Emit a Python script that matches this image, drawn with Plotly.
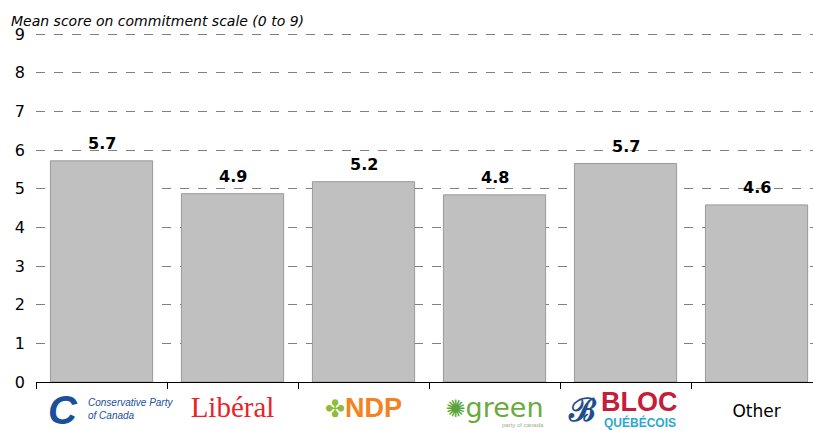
import plotly.graph_objects as go

parties = ["Conservative", "Liberal", "NDP", "Green", "Bloc", "Other"]
scores = [5.72, 4.87, 5.18, 4.84, 5.65, 4.58]
score_labels = ["5.7", "4.9", "5.2", "4.8", "5.7", "4.6"]
tick_labels = [
    "",
    "<span style='color:#e8232a;font-family:Liberation Serif;font-size:29px'>Libéral</span>",
    "<span style='color:#8dbb3a;font-size:24px'>✤</span><span style='color:#f58220;font-size:27px;font-family:Liberation Sans'><b>NDP</b></span>",
    "<span style='color:#5aa33a;font-size:24px'>✺</span><span style='color:#6aaa3c;font-size:27px'>green</span>",
    "",
    "Other",
]
y_title = "Mean score on commitment scale (0 to 9)"

fig = go.Figure(
    go.Bar(
        x=parties,
        y=scores,
        marker=dict(color="#c0c0c0", line=dict(color="#999999", width=1)),
        width=0.78,
        hoverinfo="x+y",
    )
)

annotations = [
    dict(
        text="<i>" + y_title + "</i>",
        xref="paper", yref="paper",
        x=-0.035, y=1.0,
        xanchor="left", yanchor="bottom",
        showarrow=False,
        font=dict(size=14, family="DejaVu Sans", color="black"),
    )
]
for p, s, lab in zip(parties, scores, score_labels):
    annotations.append(dict(
        text="<b>" + lab + "</b>", x=p, y=s, xref="x", yref="y",
        xanchor="center", yanchor="bottom", yshift=6, showarrow=False,
        font=dict(size=16, family="DejaVu Sans", color="black"),
    ))

logo_parts = [
    ("<b><i>C</i></b>", "Conservative", -39, -28, "middle", "center",
     dict(size=40, family="Liberation Sans", color="#1a4f9c")),
    ("<i>Conservative Party<br>of Canada</i>", "Conservative", -16, -27, "middle", "left",
     dict(size=10, family="Liberation Sans", color="#1a4f9c")),
    ("<b>ℬ</b>", "Bloc", -43, -28, "middle", "center",
     dict(size=32, family="DejaVu Serif", color="#1f4e8c")),
    ("<b>BLOC</b>", "Bloc", 14, -20, "middle", "center",
     dict(size=27, family="Liberation Sans", color="#c41e3a")),
    ("<b>QUÉBÉCOIS</b>", "Bloc", 14, -40, "middle", "center",
     dict(size=12, family="Liberation Sans", color="#2aa8d0")),
    ("party of canada", "Green", 28, -43, "middle", "center",
     dict(size=6, family="Liberation Sans", color="#9ab08a")),
]
for txt, cat, xs, ys, ya, xa, fnt in logo_parts:
    annotations.append(dict(
        text=txt, x=cat, y=0, xref="x", yref="paper",
        xanchor=xa, yanchor=ya, xshift=xs, yshift=ys, align="left",
        showarrow=False, font=fnt,
    ))

fig.update_layout(
    width=813,
    height=431,
    margin=dict(l=36, r=0, t=31, b=49),
    plot_bgcolor="white",
    paper_bgcolor="white",
    showlegend=False,
    font=dict(family="DejaVu Sans", size=15, color="black"),
    annotations=annotations,
)

fig.update_xaxes(
    type="category",
    tickmode="array",
    tickvals=parties,
    ticktext=tick_labels,
    tickson="boundaries",
    ticks="outside",
    ticklen=6,
    tickcolor="black",
    tickangle=0,
    showline=True,
    linecolor="black",
    linewidth=1,
    showgrid=False,
    range=[-0.5, 5.431],
    automargin=False,
    ticklabelstandoff=14,
    tickfont=dict(size=17, family="DejaVu Sans", color="black"),
)
fig.update_yaxes(
    range=[0, 9.0776],
    tickvals=[0, 1, 2, 3, 4, 5, 6, 7, 8, 9],
    showgrid=True,
    gridcolor="#808080",
    griddash="dash",
    gridwidth=1,
    zeroline=False,
    showline=False,
    ticks="",
    automargin=False,
    ticklabelstandoff=10,
    tickfont=dict(size=16, family="DejaVu Sans", color="black"),
)

fig.write_html(
    "out.html",
    config={"displayModeBar": False},
    post_script="document.body.style.margin='0';document.body.style.padding='0';",
)
